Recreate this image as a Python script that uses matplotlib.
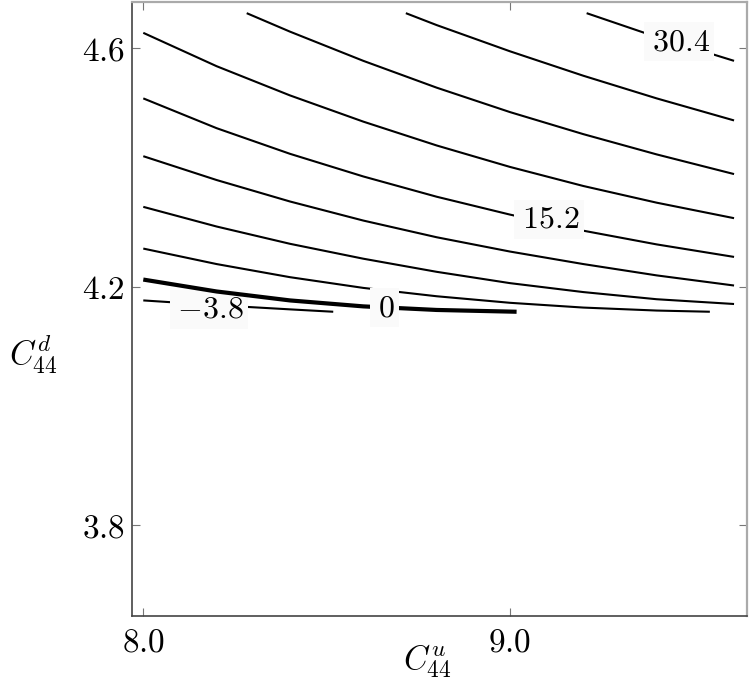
import matplotlib
matplotlib.use("Agg")
import matplotlib.pyplot as plt

plt.rcParams['mathtext.fontset'] = 'cm'
plt.rcParams['font.family'] = ['DejaVu Serif']

# Contour levels and the polylines (x = C44^u, y = C44^d)
levels = [-3.8, 0.0, 3.8, 7.6, 11.4, 15.2, 19.0, 22.8, 26.6, 30.4]

x_m38 = [8.000, 8.200, 8.400, 8.518]
y_m38 = [4.177, 4.169, 4.162, 4.158]

x_0 = [8.000, 8.200, 8.400, 8.600, 8.800, 9.018]
y_0 = [4.212, 4.192, 4.177, 4.167, 4.161, 4.158]

x_38 = [8.000, 8.200, 8.400, 8.600, 8.800, 9.000, 9.200, 9.400, 9.545]
y_38 = [4.264, 4.238, 4.216, 4.198, 4.184, 4.173, 4.165, 4.160, 4.158]

x_76 = [8.000, 8.200, 8.400, 8.600, 8.800, 9.000, 9.200, 9.400, 9.611]
y_76 = [4.334, 4.301, 4.272, 4.247, 4.225, 4.206, 4.191, 4.179, 4.171]

x_114 = [8.000, 8.200, 8.400, 8.600, 8.800, 9.000, 9.200, 9.400, 9.611]
y_114 = [4.419, 4.379, 4.343, 4.311, 4.283, 4.259, 4.238, 4.219, 4.202]

x_152 = [8.000, 8.200, 8.400, 8.600, 8.800, 9.000, 9.200, 9.400, 9.611]
y_152 = [4.516, 4.466, 4.423, 4.385, 4.351, 4.321, 4.294, 4.271, 4.250]

x_190 = [8.000, 8.200, 8.400, 8.600, 8.800, 9.000, 9.200, 9.400, 9.611]
y_190 = [4.626, 4.570, 4.521, 4.477, 4.437, 4.401, 4.369, 4.341, 4.315]

x_228 = [8.282, 8.400, 8.600, 8.800, 9.000, 9.200, 9.400, 9.611]
y_228 = [4.659, 4.628, 4.579, 4.534, 4.493, 4.456, 4.422, 4.389]

x_266 = [8.716, 8.800, 9.000, 9.200, 9.400, 9.611]
y_266 = [4.659, 4.639, 4.595, 4.554, 4.516, 4.479]

x_304 = [9.209, 9.400, 9.611]
y_304 = [4.659, 4.619, 4.579]

line_x = [x_m38, x_0, x_38, x_76, x_114, x_152, x_190, x_228, x_266, x_304]
line_y = [y_m38, y_0, y_38, y_76, y_114, y_152, y_190, y_228, y_266, y_304]

# Inline labels: level and text
label_level = [-3.8, 0.0, 15.2, 30.4]
label_text = ["-3.8", "0", "15.2", "30.4"]
label_x = [8.179, 8.659, 9.107, 9.462]
label_y = [4.162, 4.165, 4.313, 4.611]

x_ticks = [8.0, 9.0]
x_tick_labels = ["8.0", "9.0"]
y_ticks = [3.8, 4.2, 4.6]
y_tick_labels = ["3.8", "4.2", "4.6"]

fig = plt.figure(figsize=(7.5, 6.88), dpi=100)
ax = fig.add_axes([0.1756, 0.1051, 0.9956 - 0.1756, 0.9975 - 0.1051])

for lev, xs, ys in zip(levels, line_x, line_y):
    thick = (lev == 0.0)
    ax.plot(xs, ys, color='black', lw=3.0 if thick else 1.5,
            solid_capstyle='butt', solid_joinstyle='round',
            zorder=4 if thick else 2)

for lev, t, lx, ly in zip(label_level, label_text, label_x, label_y):
    ax.text(lx, ly, r"$\,{" + t + r"}\,$", fontsize=23, ha='center', va='center',
            zorder=5 if lev >= 0 else 3,
            bbox=dict(boxstyle='square,pad=0.12', fc='#fafafa', ec='none'))

ax.set_xlim(7.9684, 9.6455)
ax.set_ylim(3.648, 4.6782)

ax.set_xticks(x_ticks)
ax.set_xticklabels([f"${t}$" for t in x_tick_labels], fontsize=24)
ax.set_yticks(y_ticks)
ax.set_yticklabels([f"${t}$" for t in y_tick_labels], fontsize=24)
ax.tick_params(direction='in', length=6, width=0.8, color='#777777',
               top=True, right=True)
ax.tick_params(axis='x', pad=8)
ax.tick_params(axis='y', pad=5)

for side in ['left', 'bottom']:
    ax.spines[side].set_color('#444444')
    ax.spines[side].set_linewidth(1.2)
for side in ['top', 'right']:
    ax.spines[side].set_color('#aaaaaa')
    ax.spines[side].set_linewidth(1.6)

ax.set_xlabel(r"$C^{u}_{44}$", fontsize=24, va='center')
ax.set_ylabel(r"$C^{d}_{44}$", fontsize=24, rotation=0, va='center', ha='center')
ax.xaxis.set_label_coords(0.480, -0.074)
ax.yaxis.set_label_coords(-0.160, 0.425)

fig.savefig("out.png", dpi=100)
